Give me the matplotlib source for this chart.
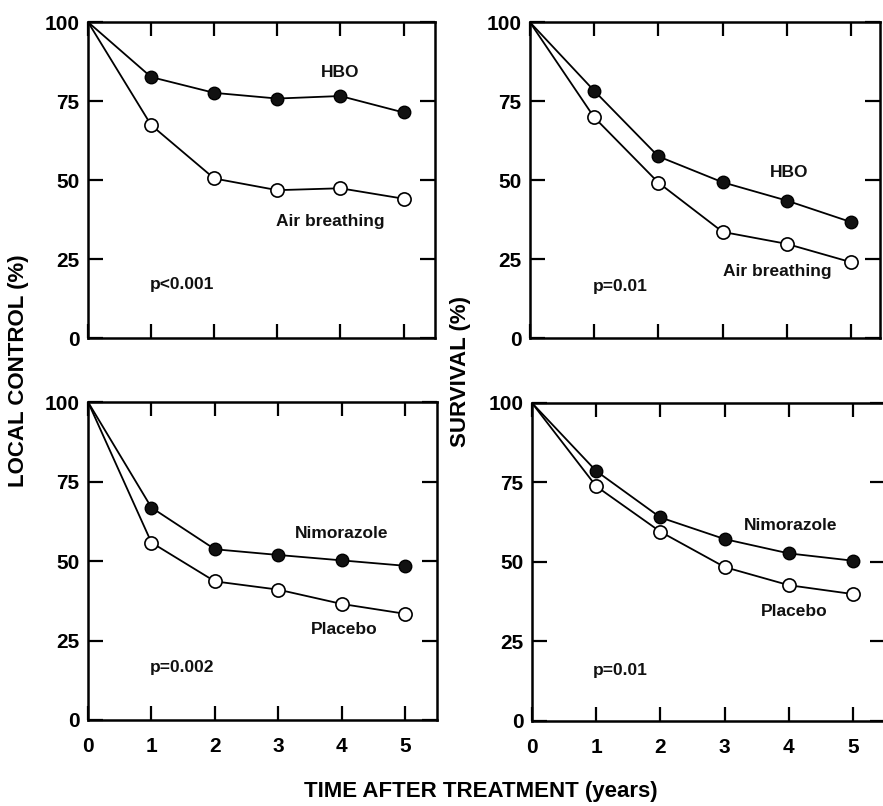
import matplotlib
matplotlib.use("Agg")
import matplotlib.pyplot as plt

plt.rcParams['font.family'] = ['Liberation Sans', 'DejaVu Sans']

years = [0, 1, 2, 3, 4, 5]

# top left: local control, HBO vs air
lc_hbo = [100, 82.6, 77.6, 75.8, 76.6, 71.4]
lc_air = [100, 67.4, 50.5, 46.8, 47.4, 44.1]
# top right: survival, HBO vs air
sv_hbo = [100, 78.3, 57.5, 49.3, 43.5, 36.7]
sv_air = [100, 69.9, 49.2, 33.6, 29.8, 24.0]
# bottom left: local control, nimorazole vs placebo
lc_nim = [100, 66.8, 53.7, 51.9, 50.2, 48.5]
lc_pla = [100, 55.8, 43.6, 41.0, 36.5, 33.4]
# bottom right: survival, nimorazole vs placebo
sv_nim = [100, 78.6, 64.0, 57.2, 52.7, 50.4]
sv_pla = [100, 73.8, 59.5, 48.4, 42.7, 39.9]

yticks = [0, 25, 50, 75, 100]

panels = [
    # rect, xmax, filled, open, filled label, open label, p text, show x labels
    ([0.0997, 0.5806, 0.393, 0.392], 5.5, lc_hbo, lc_air,
     ("HBO", 4.0, 83.9), ("Air breathing", 3.84, 36.8), ("p<0.001", 1.49, 16.8), False),
    ([0.600, 0.5806, 0.3966, 0.392], 5.45, sv_hbo, sv_air,
     ("HBO", 4.03, 52.3), ("Air breathing", 3.85, 21.1), ("p=0.01", 1.40, 16.4), False),
    ([0.0997, 0.1067, 0.395, 0.3945], 5.5, lc_nim, lc_pla,
     ("Nimorazole", 4.0, 58.7), ("Placebo", 4.04, 28.4), ("p=0.002", 1.48, 16.5), True),
    ([0.6025, 0.1055, 0.400, 0.3945], 5.5, sv_nim, sv_pla,
     ("Nimorazole", 4.02, 61.6), ("Placebo", 4.08, 34.4), ("p=0.01", 1.37, 15.9), True),
]

fig = plt.figure(figsize=(8.83, 8.06), dpi=100)

for rect, xmax, filled, hollow, lab1, lab2, ptxt, xlab in panels:
    ax = fig.add_axes(rect)
    # no marker at year 0, curves just start from 100%
    ax.plot(years, filled, color='black', lw=1.3, marker='o', ms=9,
            markevery=slice(1, None), mfc='#111111', mec='black', zorder=3)
    ax.plot(years, hollow, color='black', lw=1.3, marker='o', ms=9.5,
            markevery=slice(1, None), mfc='white', mec='black', mew=1.2,
            zorder=3)
    ax.set_xlim(0, xmax)
    ax.set_ylim(0, 100)
    ax.set_xticks(years)
    ax.set_yticks(yticks)
    ax.tick_params(axis='x', direction='in', length=10, width=1.6,
                   top=True, bottom=True, pad=12, labelsize=15)
    ax.tick_params(axis='y', direction='in', length=11, width=1.6,
                   left=True, right=True, pad=6, labelsize=15)
    if not xlab:
        ax.set_xticklabels([])
    for lbl in ax.get_xticklabels() + ax.get_yticklabels():
        lbl.set_fontweight('bold')
    for sp in ax.spines.values():
        sp.set_linewidth(1.8)
    for txt, x, y in (lab1, lab2, ptxt):
        ax.text(x, y, txt, ha='center', va='center', fontsize=12.5,
                fontweight='bold', color='#111111')

fig.text(0.021, 0.54, "LOCAL CONTROL (%)", rotation=90, ha='center',
         va='center', fontsize=16, fontweight='bold')
fig.text(0.521, 0.539, "SURVIVAL (%)", rotation=90, ha='center',
         va='center', fontsize=16, fontweight='bold')
fig.text(0.545, 0.018, "TIME AFTER TREATMENT (years)", ha='center',
         va='center', fontsize=16, fontweight='bold')

fig.savefig("out.png", dpi=100, facecolor='white')
